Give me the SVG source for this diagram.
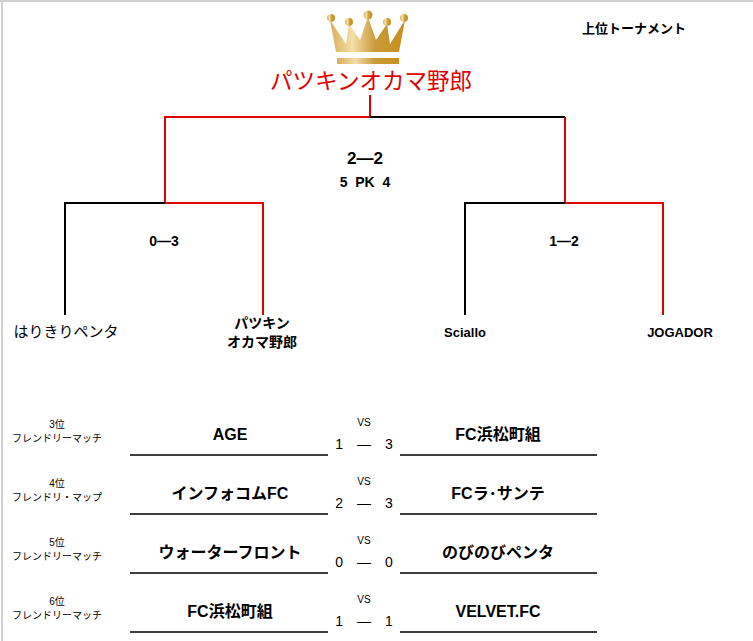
<svg xmlns="http://www.w3.org/2000/svg" width="753" height="641" viewBox="0 0 753 641">
<style>
text{font-family:"Liberation Sans","Noto Sans CJK JP",sans-serif;fill:#000}
.b{font-weight:bold;font-size:14px}
.s{font-size:10px}
.r{stroke:#e00000;stroke-width:2;fill:none}
.k{stroke:#000;stroke-width:2;fill:none}
.u{stroke:#000;stroke-width:1.5}
</style>
<defs>
<linearGradient id="g" x1="0" x2="1">
<stop offset="0" stop-color="#d9ae5a"/><stop offset="0.3" stop-color="#f3dfa6"/><stop offset="0.6" stop-color="#c99a3c"/><stop offset="1" stop-color="#c98f1a"/>
</linearGradient>
</defs>
<rect x="0" y="0" width="753" height="641" fill="#fff"/>
<path d="M2 0V641M0 1H753" stroke="#d0d0d0" stroke-width="2"/>
<g id="crown" fill="url(#g)">
<path d="M330 20 L346 44 L349 24 L360 40 L368 17 L376 40 L387 24 L390 44 L405 20 L399 52 L336 52 Z"/>
<circle cx="331" cy="18" r="4"/><circle cx="349" cy="22" r="4"/><circle cx="368" cy="15" r="4.5"/><circle cx="387" cy="22" r="4"/><circle cx="404" cy="18" r="4"/>
<rect x="337" y="58" width="62" height="6"/>
</g>
<text x="686" y="33" class="b" text-anchor="end" style="font-size:13px">上位トーナメント</text>
<g id="champion"><text x="371" y="89" text-anchor="middle" style="font-size:22.5px;fill:#e00000">パツキンオカマ野郎</text></g>
<g id="connectors">
<path class="r" d="M370 95V117H165V203H263V315"/>
<path class="k" d="M370 117H565M165 203H65V315"/>
<path class="r" d="M565 117V203H663V315"/>
<path class="k" d="M565 203H465V315"/>
</g>
<text x="365" y="164" text-anchor="middle" class="b" style="font-size:17px">2—2</text>
<text x="365" y="187" text-anchor="middle" class="b" xml:space="preserve">5  PK  4</text>
<text x="164" y="246" text-anchor="middle" class="b">0—3</text>
<text x="564" y="246" text-anchor="middle" class="b">1—2</text>
<g id="n1"><text x="66" y="337" text-anchor="middle" style="font-size:15px">はりきりペンタ</text></g>
<g id="n2"><text x="262" y="328" text-anchor="middle" class="b">パツキン</text><text x="262" y="347" text-anchor="middle" class="b">オカマ野郎</text></g>
<g id="n3"><text x="465" y="337" text-anchor="middle" class="b" style="font-size:13px">Sciallo</text></g>
<g id="n4"><text x="680" y="337" text-anchor="middle" class="b" style="font-size:13px">JOGADOR</text></g>
<g id="m3">
<text x="57" y="428" text-anchor="middle" class="s">3位</text><text x="57" y="442" text-anchor="middle" class="s">フレンドリーマッチ</text>
<text x="230" y="440" text-anchor="middle" class="b" style="font-size:16px">AGE</text>
<text x="498" y="440" text-anchor="middle" class="b" style="font-size:16px">FC浜松町組</text>
<text x="364" y="426" text-anchor="middle" class="s">VS</text>
<text x="364" y="449" text-anchor="middle" style="font-size:14px">1　—　3</text>
<path class="u" d="M130 455H328M400 455H597"/>
</g>
<g id="m4">
<text x="57" y="487" text-anchor="middle" class="s">4位</text><text x="57" y="501" text-anchor="middle" class="s">フレンドリ・マップ</text>
<text x="230" y="499" text-anchor="middle" class="b" style="font-size:16px">インフォコムFC</text>
<text x="498" y="499" text-anchor="middle" class="b" style="font-size:16px">FCラ･サンテ</text>
<text x="364" y="485" text-anchor="middle" class="s">VS</text>
<text x="364" y="508" text-anchor="middle" style="font-size:14px">2　—　3</text>
<path class="u" d="M130 514H328M400 514H597"/>
</g>
<g id="m5">
<text x="57" y="546" text-anchor="middle" class="s">5位</text><text x="57" y="560" text-anchor="middle" class="s">フレンドリーマッチ</text>
<text x="230" y="558" text-anchor="middle" class="b" style="font-size:16px">ウォーターフロント</text>
<text x="498" y="558" text-anchor="middle" class="b" style="font-size:16px">のびのびペンタ</text>
<text x="364" y="544" text-anchor="middle" class="s">VS</text>
<text x="364" y="567" text-anchor="middle" style="font-size:14px">0　—　0</text>
<path class="u" d="M130 573H328M400 573H597"/>
</g>
<g id="m6">
<text x="57" y="605" text-anchor="middle" class="s">6位</text><text x="57" y="619" text-anchor="middle" class="s">フレンドリーマッチ</text>
<text x="230" y="617" text-anchor="middle" class="b" style="font-size:16px">FC浜松町組</text>
<text x="498" y="617" text-anchor="middle" class="b" style="font-size:16px">VELVET.FC</text>
<text x="364" y="603" text-anchor="middle" class="s">VS</text>
<text x="364" y="626" text-anchor="middle" style="font-size:14px">1　—　1</text>
<path class="u" d="M130 632H328M400 632H597"/>
</g>
</svg>
